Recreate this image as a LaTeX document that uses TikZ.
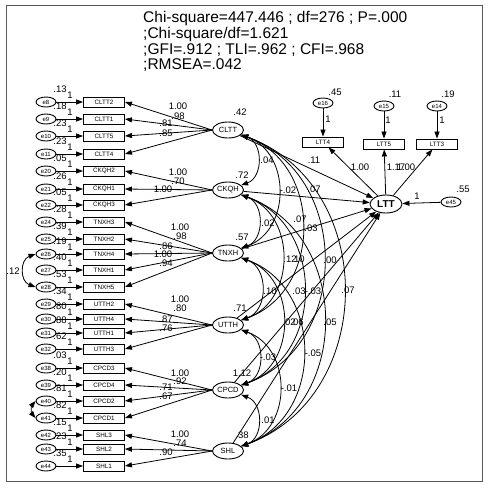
\documentclass[tikz,border=0pt]{standalone}
\usepackage{fontspec}
\setmainfont{Liberation Sans}
\usetikzlibrary{shapes.geometric,arrows.meta}
\tikzset{
 obs/.style={draw, line width=0.9pt, minimum width=41pt, minimum height=10pt, inner sep=0pt, font=\fontsize{6.3}{7}\selectfont},
 lat/.style={ellipse, draw, line width=0.9pt, minimum width=31pt, minimum height=16pt, inner sep=0pt, font=\fontsize{7.5}{8}\selectfont},
 err/.style={ellipse, draw, line width=0.9pt, minimum width=20pt, minimum height=10pt, inner sep=0pt, font=\fontsize{6}{6}\selectfont},
 arr/.style={-{Triangle[length=7pt,width=5pt]}, line width=0.8pt},
 cov/.style={{Triangle[length=7pt,width=5pt]}-{Triangle[length=7pt,width=5pt]}, line width=0.8pt},
 lbl/.style={font=\fontsize{9.5}{10}\selectfont, inner sep=0pt},
 ttl/.style={font=\fontsize{15.5}{16}\selectfont, inner sep=0pt, anchor=base west},
}
\begin{document}
\begin{tikzpicture}[x=1pt,y=1pt]
\useasboundingbox (0,0) rectangle (490,-488);
\fill[white] (0,0) rectangle (490,-488);
\draw[gray!70!black, line width=1pt] (6,-5) rectangle (482,-481);

% title
\node[ttl] (t1) at (143,-22) {Chi-square=447.446 ; df=276 ; P=.000};
\node[ttl] (t2) at (143,-38) {;Chi-square/df=1.621};
\node[ttl] (t3) at (143,-54) {;GFI=.912 ; TLI=.962 ; CFI=.968};
\node[ttl] (t4) at (143,-69) {;RMSEA=.042};

% latent variables
\node[lat] (CLTT) at (228,-130) {CLTT};
\node[lat] (CKQH) at (228,-190) {CKQH};
\node[lat] (TNXH) at (228,-253) {TNXH};
\node[lat] (UTTH) at (228,-325) {UTTH};
\node[lat] (CPCD) at (228,-390) {CPCD};
\node[lat] (SHL) at (228,-451) {SHL};
\node[lat, minimum width=32pt, minimum height=18pt, font=\fontsize{10}{10}\selectfont\bfseries] (LTT) at (386,-204) {LTT};

% latent variances
\node[lbl] (vCLTT) at (240,-112) {.42};
\node[lbl] (vCKQH) at (242,-175) {.72};
\node[lbl] (vTNXH) at (242,-237) {.57};
\node[lbl] (vUTTH) at (240,-308) {.71};
\node[lbl] (vCPCD) at (242,-373) {1.12};
\node[lbl] (vSHL) at (242,-435) {.38};

% indicators of exogenous latents
\foreach \n/\y/\e/\v/\f in {CLTT2/102/e8/.13/CLTT, CLTT1/119/e9/.18/CLTT, CLTT5/136/e10/.23/CLTT, CLTT4/154/e11/.23/CLTT,
 CKQH2/171/e20/.05/CKQH, CKQH1/189/e21/.26/CKQH, CKQH3/205/e22/.05/CKQH,
 TNXH3/222/e24/.28/TNXH, TNXH2/239/e25/.39/TNXH, TNXH4/254/e26/.19/TNXH, TNXH1/270/e27/.40/TNXH, TNXH5/287/e28/.53/TNXH,
 UTTH2/304/e29/.34/UTTH, UTTH4/319/e30/.80/UTTH, UTTH1/333/e31/.88/UTTH, UTTH3/349/e32/.62/UTTH,
 CPCD3/368/e38/.03/CPCD, CPCD4/385/e39/.20/CPCD, CPCD2/401/e40/.81/CPCD, CPCD1/418/e41/.82/CPCD,
 SHL3/435/e42/.15/SHL, SHL2/449/e43/.23/SHL, SHL1/466/e44/.35/SHL}{
 \node[obs] (\n) at (104,-\y) {\n};
 \node[err] (\e) at (46,-\y) {\e};
 \draw[arr] (\e) -- (\n);
 \draw[arr] (\f.west) -- (\n.east);
 \node[lbl] (v\e) at (60,-\y+13) {\v};
 \node[lbl] (o\e) at (70,-\y+7) {1};
}

% loadings
\foreach \x/\y/\t in {178/106/1.00, 178/116/.98, 166/123/.81, 166/133/.85,
 178/172/1.00, 178/181/.70, 163/189/1.00,
 180/227/1.00, 180/236/.98, 166/246/.86, 163/254/1.00, 166/263/.94,
 180/299/1.00, 180/308/.80, 166/319/.87, 166/328/.76,
 180/373/1.00, 180/381/.92, 166/387/.71, 166/396/.67,
 180/434/1.00, 180/443/.74, 166/452/.90}{
 \node[lbl] at (\x,-\y) {\t};
}

% error covariances
\draw[cov] (e26.west) to[bend right=70, looseness=1.3] (e28.west);
\node[lbl] (c1228) at (13,-271) {.12};
\draw[cov] (e40.west) to[bend right=40] (e41.west);

% covariances among exogenous latents
\foreach \a/\b in {CLTT/CKQH, CLTT/TNXH, CLTT/UTTH, CLTT/CPCD, CLTT/SHL,
 CKQH/TNXH, CKQH/UTTH, CKQH/CPCD, CKQH/SHL,
 TNXH/UTTH, TNXH/CPCD, TNXH/SHL,
 UTTH/CPCD, UTTH/SHL, CPCD/SHL}{
 \draw[cov] (\a) to[bend left=70, looseness=1.2] (\b);
}

% structural paths
\foreach \a in {CLTT,CKQH,TNXH,UTTH,CPCD,SHL}{
 \draw[arr] (\a) -- (LTT);
}

% labels in the tangle
\foreach \x/\y/\t in {267/160/.04, 314/160/.11, 288/190/-.02, 314/189/.07, 268/223/.02, 300/219/.07, 311/228/.03,
 290/259/.12, 298/259/.10, 330/260/.00, 270/291/.10, 299/291/.03, 313/291/-.03, 348/290/.07,
 289/322/.02, 297/322/.06, 330/322/.05, 313/353/-.05, 268/357/-.03, 289/388/-.01, 268/420/.01}{
 \node[lbl] at (\x,-\y) {\t};
}

% endogenous indicators
\node[obs] (LTT4) at (323,-142) {LTT4};
\node[obs] (LTT5) at (384,-144) {LTT5};
\node[obs] (LTT3) at (437,-144) {LTT3};
\node[err] (e16) at (323,-103) {e16};
\node[err] (e15) at (384,-106) {e15};
\node[err] (e14) at (437,-106) {e14};
\node[err] (e45) at (451,-202) {e45};
\draw[arr] (e16) -- (LTT4);
\draw[arr] (e15) -- (LTT5);
\draw[arr] (e14) -- (LTT3);
\draw[arr] (LTT) -- (LTT4);
\draw[arr] (LTT) -- (LTT5);
\draw[arr] (LTT) -- (LTT3);
\draw[arr] (e45) -- (LTT);
\node[lbl] at (335,-92) {.45};
\node[lbl] at (395,-94) {.11};
\node[lbl] at (448,-94) {.19};
\node[lbl] at (328,-119) {1};
\node[lbl] at (388,-120) {1};
\node[lbl] at (442,-120) {1};
\node[lbl] at (360,-167) {1.00};
\node[lbl] at (396,-167) {1.17};
\node[lbl] at (406,-167) {1.00};
\node[lbl] at (463,-189) {.55};
\node[lbl] at (417,-196) {1};
\end{tikzpicture}
\end{document}
